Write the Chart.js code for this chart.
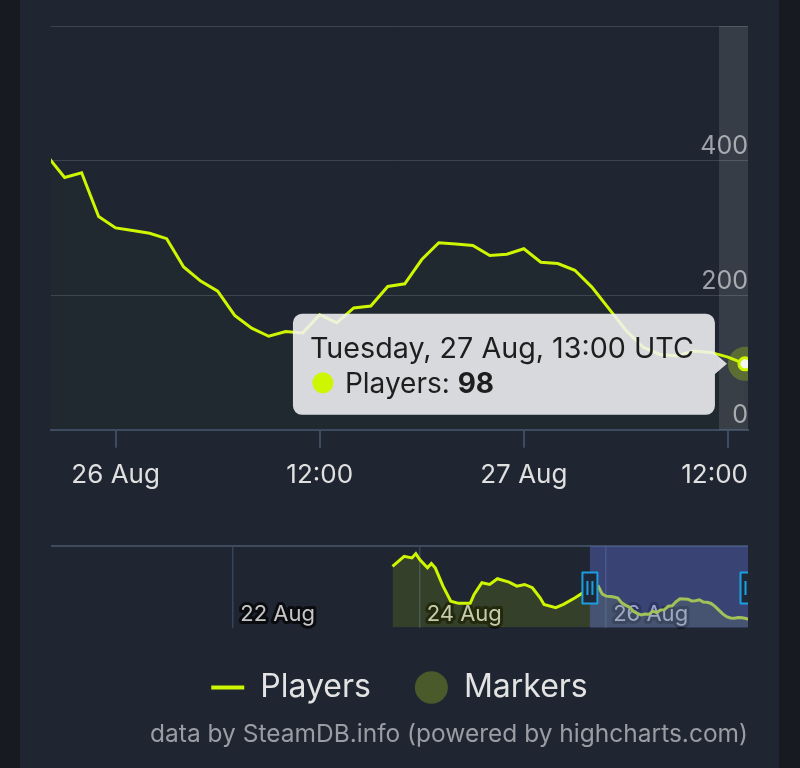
<!DOCTYPE html>
<html>
<head>
<meta charset="utf-8">
<script src="https://cdn.jsdelivr.net/npm/chart.js@4.4.1/dist/chart.umd.min.js"></script>
<style>
  html, body { margin: 0; padding: 0; background: #171b21; }
  body { width: 800px; height: 768px; position: relative; overflow: hidden; }
  #panel { position: absolute; left: 20px; top: 0; width: 759px; height: 768px; background: #1f2631; }
  canvas { position: absolute; left: 0; }
  #mainChart { top: 0; }
  #navChart { top: 530px; }
</style>
</head>
<body>
<div id="panel"></div>
<canvas id="mainChart" width="800" height="520"></canvas>
<canvas id="navChart" width="800" height="238"></canvas>
<script>
// hours counted from 26 Aug 00:00 UTC
var hours = [-4, -3, -2, -1, 0, 1, 2, 3, 4, 5, 6, 7, 8, 9, 10, 11, 12, 13, 14, 15, 16, 17, 18, 19, 20,
  21, 22, 23, 24, 25, 26, 27, 28, 29, 30, 31, 32, 33, 34, 35, 36, 37];
var players = [406, 375, 382, 317, 300, 296, 292, 284, 242, 221, 206, 170, 151, 139, 146, 144, 171, 159, 181, 184, 213,
  217, 253, 278, 276, 274, 259, 261, 269, 249, 247, 237, 212, 180, 148, 123, 112, 110, 117, 115, 108, 98];

var xTickHours = [0, 12, 24, 36];
var xTickLabels = ['26 Aug', '12:00', '27 Aug', '12:00'];
var yTickValues = [0, 200, 400, 600];
var yTickLabels = ['0', '200', '400', ''];

// navigator: older part of the history (before the selected range)
var navHours = [-55, -52, -50, -49, -48, -46, -45, -44, -42, -40, -38, -35, -34, -32, -30, -28, -25, -23, -21, -19,
  -17, -16, -13, -11, -8, -6];
var navPlayers = [556, 642, 628, 665, 614, 543, 580, 543, 386, 257, 238, 238, 315, 415, 400, 449, 420, 386, 400, 372,
  286, 229, 201, 229, 286, 329];
var navTickHours = [-96, -48, 0];
var navTickLabels = ['22 Aug', '24 Aug', '26 Aug'];

var tooltipTitle = 'Tuesday, 27 Aug, 13:00 UTC';

var viewMin = -3.8, viewMax = 37.18;
var lime = '#cef600';
var last = players.length - 1;

Chart.defaults.font.family = 'Inter';
Chart.defaults.animation = false;

var mainPoints = hours.map(function (h, i) { return { x: h, y: players[i] }; });

// grey hover band behind the hovered point
var crosshair = {
  id: 'crosshair',
  beforeDatasetsDraw: function (chart) {
    var ca = chart.chartArea;
    var px = chart.scales.x.getPixelForValue(hours[last]);
    var ctx = chart.ctx;
    ctx.save();
    ctx.fillStyle = 'rgba(255,255,255,0.11)';
    ctx.fillRect(px - 26, ca.top, ca.right - px + 26, ca.bottom - ca.top);
    ctx.restore();
  }
};

// last x label is pushed inside the plot, like highcharts does
var lastLabelFix = {
  id: 'lastLabelFix',
  beforeDraw: function (chart) {
    var items = chart.scales.x.getLabelItems();
    var it = items[items.length - 1];
    it.options.textAlign = 'right';
    it.options.translation[0] = chart.chartArea.right;
  }
};

var tooltipBox = {
  id: 'tooltipBox',
  afterDraw: function (chart) {
    var ctx = chart.ctx;
    var px = chart.scales.x.getPixelForValue(hours[last]);
    var py = chart.scales.y.getPixelForValue(players[last]);
    var right = px - 30, left = right - 422, top = py - 50, bottom = py + 51;
    ctx.save();
    ctx.fillStyle = 'rgba(242,242,244,0.88)';
    ctx.beginPath();
    ctx.roundRect(left, top, right - left, bottom - top, 9);
    ctx.moveTo(right - 2, py - 12);
    ctx.lineTo(px - 18, py);
    ctx.lineTo(right - 2, py + 12);
    ctx.closePath();
    ctx.fill();

    ctx.fillStyle = '#1e1e1e';
    ctx.textBaseline = 'alphabetic';
    ctx.font = '28.7px Inter';
    ctx.fillText(tooltipTitle, left + 17, top + 44);

    ctx.fillStyle = lime;
    ctx.beginPath();
    ctx.arc(left + 30, top + 69, 10.5, 0, Math.PI * 2);
    ctx.fill();

    ctx.fillStyle = '#1e1e1e';
    ctx.font = '28px Inter';
    var lbl = 'Players: ';
    ctx.fillText(lbl, left + 52, top + 79);
    var w = ctx.measureText(lbl).width;
    ctx.font = 'bold 28px Inter';
    ctx.fillText(String(players[last]), left + 52 + w, top + 79);
    ctx.restore();
  }
};

new Chart(document.getElementById('mainChart'), {
  type: 'line',
  data: {
    datasets: [{
      label: 'Players',
      data: mainPoints,
      borderColor: lime,
      borderWidth: 3,
      backgroundColor: 'rgba(200,240,0,0.012)',
      fill: 'start',
      tension: 0,
      clip: 0,
      pointRadius: function (c) { return c.dataIndex === last ? 6 : 0; },
      pointBackgroundColor: '#f4f4f4',
      pointBorderColor: lime,
      pointBorderWidth: 3,
      order: 1
    }, {
      label: 'halo',
      data: [mainPoints[last]],
      showLine: false,
      pointRadius: 17,
      pointBackgroundColor: 'rgba(205,246,0,0.25)',
      pointBorderWidth: 0,
      clip: 0,
      order: 2
    }]
  },
  options: {
    responsive: false,
    events: [],
    layout: { padding: { left: 51, right: 52, top: 26, bottom: 17 } },
    plugins: { legend: { display: false }, tooltip: { enabled: false } },
    scales: {
      x: {
        type: 'linear',
        min: viewMin,
        max: viewMax,
        afterBuildTicks: function (s) { s.ticks = xTickHours.map(function (v) { return { value: v }; }); },
        ticks: {
          color: '#e0e0e0',
          font: { size: 26 },
          padding: 12,
          maxRotation: 0,
          autoSkip: false,
          callback: function (v) { return xTickLabels[xTickHours.indexOf(v)]; }
        },
        grid: { drawOnChartArea: false, color: '#3d4c61', lineWidth: 2, tickLength: 18 },
        border: { color: '#3d4c61', width: 2 }
      },
      y: {
        position: 'right',
        min: 0,
        max: 600,
        afterBuildTicks: function (s) { s.ticks = yTickValues.map(function (v) { return { value: v }; }); },
        ticks: {
          mirror: true,
          labelOffset: -14,
          padding: 0,
          color: '#9ea2a8',
          font: { size: 25 },
          callback: function (v) { return yTickLabels[yTickValues.indexOf(v)]; }
        },
        grid: {
          color: function (c) { return c.tick && c.tick.value === 0 ? 'transparent' : '#3d4450'; },
          drawTicks: false
        },
        border: { display: false }
      }
    }
  },
  plugins: [crosshair, lastLabelFix, tooltipBox]
});

// navigator
var navPoints = navHours.map(function (h, i) { return { x: h, y: navPlayers[i] }; }).concat(mainPoints);

// round joins for the outlined date labels
var roundJoin = {
  id: 'roundJoin',
  beforeDraw: function (chart) { chart.ctx.lineJoin = 'round'; }
};

var navMask = {
  id: 'navMask',
  afterDraw: function (chart) {
    var ctx = chart.ctx, ca = chart.chartArea, xs = chart.scales.x;
    var x0 = xs.getPixelForValue(viewMin) - 1.5;
    var x1 = Math.min(xs.getPixelForValue(viewMax), ca.right);
    ctx.save();
    ctx.fillStyle = 'rgba(97,114,221,0.4)';
    ctx.fillRect(x0, ca.top, ca.right - x0, ca.bottom - ca.top);
    ctx.beginPath();
    ctx.rect(ca.left, 0, ca.right - ca.left, chart.height);
    ctx.clip();
    var cy = ca.top + 42;
    [x0, x1].forEach(function (x) {
      ctx.fillStyle = '#1e2839';
      ctx.strokeStyle = '#1a9fe0';
      ctx.lineWidth = 2;
      ctx.fillRect(x - 7.5, cy - 15.5, 15, 31);
      ctx.strokeRect(x - 7.5, cy - 15.5, 15, 31);
      ctx.beginPath();
      ctx.moveTo(x - 2.5, cy - 7);
      ctx.lineTo(x - 2.5, cy + 7);
      ctx.moveTo(x + 2.5, cy - 7);
      ctx.lineTo(x + 2.5, cy + 7);
      ctx.stroke();
    });
    ctx.restore();
  }
};

new Chart(document.getElementById('navChart'), {
  type: 'line',
  data: {
    datasets: [{
      label: 'Players',
      data: navPoints,
      borderColor: lime,
      borderWidth: 3,
      backgroundColor: 'rgba(200,240,0,0.13)',
      fill: 'start',
      pointRadius: 0,
      tension: 0,
      clip: 0
    }, {
      label: 'Markers',
      data: [],
      backgroundColor: '#4b5a2b',
      borderWidth: 0
    }]
  },
  options: {
    responsive: false,
    events: [],
    layout: { padding: { left: 51, right: 52, top: 16, bottom: 19 } },
    plugins: {
      tooltip: { enabled: false },
      legend: {
        position: 'bottom',
        labels: {
          usePointStyle: true,
          pointStyleWidth: 33,
          boxHeight: 23,
          color: '#e3e3e3',
          font: { size: 32 },
          padding: 44,
          generateLabels: function () {
            return [
              { text: 'Players', pointStyle: 'line', strokeStyle: lime, fillStyle: lime, fontColor: '#e3e3e3', lineWidth: 4, hidden: false, datasetIndex: 0 },
              { text: 'Markers', pointStyle: 'circle', strokeStyle: '#4b5a2b', fillStyle: '#4b5a2b', fontColor: '#e3e3e3', lineWidth: 0, hidden: false, datasetIndex: 1 }
            ];
          }
        }
      },
      subtitle: {
        display: true,
        text: 'data by SteamDB.info (powered by highcharts.com)',
        position: 'bottom',
        align: 'end',
        color: '#9a9da3',
        font: { size: 24.5, weight: 'normal' },
        padding: { top: 6, bottom: 0 }
      }
    },
    scales: {
      x: {
        type: 'linear',
        min: -142.9,
        max: 36.5,
        z: 1,
        afterBuildTicks: function (s) { s.ticks = navTickHours.map(function (v) { return { value: v }; }); },
        afterFit: function (s) { s.height = 0; },
        ticks: {
          mirror: true,
          align: 'start',
          labelOffset: 7,
          padding: 0,
          color: '#c6c6c6',
          font: { size: 22 },
          textStrokeColor: '#0a0c0f',
          textStrokeWidth: 6,
          maxRotation: 0,
          autoSkip: false,
          callback: function (v) { return navTickLabels[navTickHours.indexOf(v)]; }
        },
        grid: { color: '#34445a', lineWidth: 1.5, drawTicks: false },
        border: { display: false }
      },
      y: {
        min: 30,
        max: 730,
        afterBuildTicks: function (s) { s.ticks = [{ value: 730 }]; },
        ticks: { display: false },
        grid: { color: '#3d4b5f', lineWidth: 2, drawTicks: false },
        border: { display: false }
      }
    }
  },
  plugins: [roundJoin, navMask]
});
</script>
</body>
</html>
